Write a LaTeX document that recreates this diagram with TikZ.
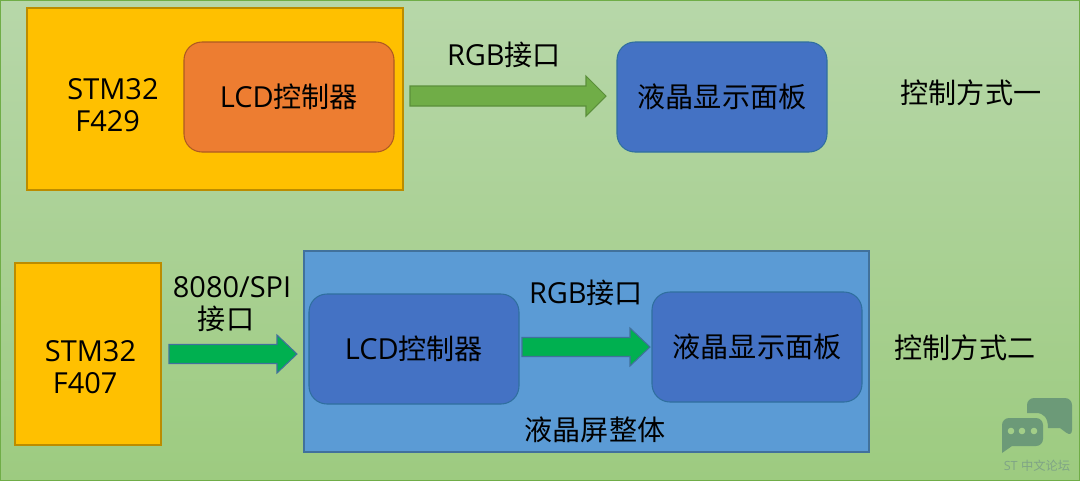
\documentclass[tikz,border=0pt]{standalone}
\usepackage{fontspec}
\setmainfont[Scale=1.03]{Open Sans}
\newfontfamily\cjk{Noto Sans CJK SC}
\usetikzlibrary{calc}
\definecolor{bgtop}{HTML}{B7D7A9}
\definecolor{bgbot}{HTML}{9DCB80}
\definecolor{bgline}{HTML}{70AD47}
\definecolor{chipfill}{HTML}{FFC000}
\definecolor{chipline}{HTML}{BC8C00}
\definecolor{ctrlfill}{HTML}{ED7D31}
\definecolor{ctrlline}{HTML}{AE5A21}
\definecolor{panelfill}{HTML}{4472C4}
\definecolor{panelline}{HTML}{2F6F9F}
\definecolor{wholefill}{HTML}{5B9BD5}
\definecolor{wholeline}{HTML}{41719C}
\definecolor{arrowa}{HTML}{70AD47}
\definecolor{arrowaline}{HTML}{5B8F3A}
\definecolor{arrowb}{HTML}{00B050}
\definecolor{logoc}{HTML}{6C9A78}
\definecolor{logot}{HTML}{7FA486}
\tikzset{
  x=0.02cm,y=-0.02cm,
  txt/.style={font=\fontsize{16}{18.5}\selectfont,text=black,inner sep=0pt,align=left},
  chip/.style={draw=chipline,fill=chipfill,line width=0.6pt},
  ctrl/.style={draw=ctrlline,fill=ctrlfill,line width=0.6pt,rounded corners=0.36cm},
  panel/.style={draw=panelline,fill=panelfill,line width=0.6pt,rounded corners=0.36cm},
  whole/.style={draw=wholeline,fill=wholefill,line width=0.6pt},
}
% block arrow: fill, line, half width of the shaft, from, to
\newcommand{\blockarrow}[5]{
  \draw[fill=#1,draw=#2,line width=0.6pt,line join=miter]
    let \p1=(#4), \p2=(#5) in
    (\x1,\y1+#3) -- (\x2-0.4cm,\y1+#3) -- (\x2-0.4cm,\y1+2*#3) -- (\x2,\y1)
    -- (\x2-0.4cm,\y1-2*#3) -- (\x2-0.4cm,\y1-#3) -- (\x1,\y1-#3) -- cycle;
}
\begin{document}
\begin{tikzpicture}
\useasboundingbox (0,0) rectangle (1080,481);
\shade[top color=bgtop,bottom color=bgbot,draw=bgline,line width=0.6pt] (0.5,0.5) rectangle (1079.5,480.5);

% control mode one
\draw[chip] (27,8) rectangle (403,190);
\draw[ctrl] (184,42) rectangle (394,152);
\coordinate (ctrlA) at (289,97);
\draw[panel] (617,42) rectangle (827,152);
\coordinate (panelA) at (722,97);
\node[txt] (stmA) at (113,105) {STM32\\\hspace{0.16cm}F429};
\node[txt] (lcdA) at (ctrlA) {LCD{\cjk 控制器}};
\node[txt] (lcdpanelA) at (panelA) {{\cjk 液晶显示面板}};
\node[txt] (rgbA) at (504,55) {RGB{\cjk 接口}};
\node[txt] (modeA) at (971,93) {{\cjk 控制方式一}};
\coordinate (a1) at (410,96);
\coordinate (a2) at (606,96);
\blockarrow{arrowa}{arrowaline}{0.2cm}{a1}{a2}

% control mode two
\draw[chip] (15,263) rectangle (161,445);
\draw[whole] (304,251) rectangle (869,452);
\draw[panel] (309,294) rectangle (519,404);
\coordinate (ctrlB) at (414,349);
\draw[panel] (652,292) rectangle (862,402);
\coordinate (panelB) at (757,347);
\node[txt] (stmB) at (90.5,367) {STM32\\\hspace{0.16cm}F407};
\node[txt] (lcdB) at (ctrlB) {LCD{\cjk 控制器}};
\node[txt] (lcdpanelB) at (panelB) {{\cjk 液晶显示面板}};
\node[txt,align=center] (spi) at (232,304) {8080/SPI\\{\cjk 接口}\hspace*{0.24cm}};
\node[txt] (rgbB) at (586,293) {RGB{\cjk 接口}};
\node[txt] (whole) at (595,430) {{\cjk 液晶屏整体}};
\node[txt] (modeB) at (965,348) {{\cjk 控制方式二}};
\coordinate (b1) at (169,354);
\coordinate (b2) at (297,354);
\blockarrow{arrowb}{wholeline}{0.19cm}{b1}{b2}
\coordinate (c1) at (522,347);
\coordinate (c2) at (650,347);
\blockarrow{arrowb}{wholeline}{0.19cm}{c1}{c2}

% logo
\fill[logoc] (1027,413) [rounded corners=0.14cm] -- (1027,398) -- (1072,398) -- (1072,437) [sharp corners] -- (1060,428) -- (1048,428) .. controls (1048,418) and (1044,413) .. (1036,413) -- cycle;
\fill[logoc] (1002,453) [rounded corners=0.14cm] -- (1002,418) -- (1043,418) -- (1043,446) [sharp corners] -- (1012,446) -- cycle;
\foreach \dotx in {1011,1022,1034}
  \fill[bgbot!80!bgtop] (\dotx,431) circle (3.3);
\node[text=logot,font=\fontsize{7}{8}\selectfont,inner sep=0pt] (logotext) at (1037,466) {ST {\cjk 中文论坛}};
\end{tikzpicture}
\end{document}
